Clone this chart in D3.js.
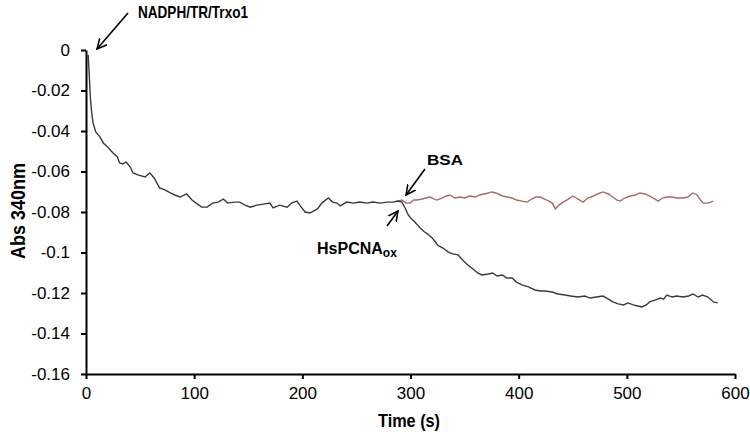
<!DOCTYPE html>
<html>
<head>
<meta charset="utf-8">
<script src="https://cdn.jsdelivr.net/npm/d3@7"></script>
<style>
  body { margin: 0; background: #fff; }
  text { font-family: Arial, "Liberation Sans", sans-serif; fill: #000; }
</style>
</head>
<body>
<svg id="chart" width="750" height="440"></svg>
<script>

// time (s) / Abs 340nm
var blackTime = [2,3,4,5,6.5,9,13,16,20,25,29,31,34,37,41,43.5,48,54.5,59,63,68,73,78,82,87,93,98,103,107,112,117,122,127,131,137,142,147,152,158,164,170,173,179,186,190,195,199,202.5,207,214,218,224,228,232,235,241,247,253,260,265,272,278,284,288,292,295,298,301,304,309,313,316,320,323,325,330,335,339,344,349,353,359,362,366,372,376,380,385,389,394,398,403,409,415,420,424,431,436,443,448,455,461,466,472,478,483,487,492,497,501,506,510,514,518,521,526,531,534,537,542,546,552,557,561,566,570,575,580,584];
var blackAbs = [-0.0025,-0.0123,-0.0232,-0.0296,-0.0360,-0.0405,-0.0430,-0.0459,-0.0479,-0.0509,-0.0528,-0.0558,-0.0563,-0.0553,-0.0578,-0.0607,-0.0617,-0.0627,-0.0607,-0.0632,-0.0681,-0.0691,-0.0706,-0.0716,-0.0726,-0.0711,-0.0741,-0.0761,-0.0776,-0.0776,-0.0756,-0.0751,-0.0736,-0.0756,-0.0751,-0.0751,-0.0766,-0.0776,-0.0766,-0.0761,-0.0756,-0.0780,-0.0766,-0.0776,-0.0756,-0.0746,-0.0776,-0.0800,-0.0805,-0.0785,-0.0756,-0.0731,-0.0751,-0.0756,-0.0770,-0.0751,-0.0756,-0.0751,-0.0756,-0.0751,-0.0756,-0.0751,-0.0751,-0.0746,-0.0751,-0.0780,-0.0815,-0.0835,-0.0849,-0.0879,-0.0899,-0.0909,-0.0928,-0.0948,-0.0963,-0.0978,-0.0998,-0.1007,-0.1012,-0.1042,-0.1062,-0.1086,-0.1101,-0.1111,-0.1106,-0.1101,-0.1116,-0.1111,-0.1126,-0.1126,-0.1146,-0.1160,-0.1170,-0.1185,-0.1190,-0.1190,-0.1195,-0.1205,-0.1210,-0.1215,-0.1220,-0.1215,-0.1225,-0.1220,-0.1215,-0.1230,-0.1244,-0.1254,-0.1259,-0.1249,-0.1259,-0.1264,-0.1269,-0.1259,-0.1244,-0.1235,-0.1225,-0.1230,-0.1210,-0.1220,-0.1215,-0.1220,-0.1215,-0.1205,-0.1220,-0.1210,-0.1220,-0.1244,-0.1249];

var redTime = [288,292,296,299.5,303,306,311,314,318,322,324.5,329,333,336.5,341,346,350,355,360,364,368,372,375,379,383,385.5,389,394,398,403,408,412,416,420,424,428,431,434,437,441,446,450,455,459.5,464,469,473,478,483,487,491,494,498,503,508,512,517,521,526,529,533,537,542,546,552,556.5,561,565,567.5,570.5,575,580];
var redAbs = [-0.0746,-0.0741,-0.0756,-0.0756,-0.0741,-0.0741,-0.0736,-0.0731,-0.0726,-0.0736,-0.0741,-0.0731,-0.0721,-0.0716,-0.0731,-0.0726,-0.0731,-0.0721,-0.0726,-0.0716,-0.0711,-0.0706,-0.0701,-0.0706,-0.0716,-0.0721,-0.0726,-0.0731,-0.0741,-0.0746,-0.0751,-0.0736,-0.0726,-0.0726,-0.0736,-0.0746,-0.0756,-0.0785,-0.0766,-0.0751,-0.0736,-0.0721,-0.0736,-0.0751,-0.0731,-0.0721,-0.0711,-0.0701,-0.0711,-0.0726,-0.0741,-0.0746,-0.0731,-0.0721,-0.0716,-0.0706,-0.0711,-0.0721,-0.0736,-0.0746,-0.0731,-0.0726,-0.0726,-0.0731,-0.0731,-0.0726,-0.0706,-0.0716,-0.0736,-0.0756,-0.0756,-0.0746];

var xTicks = [0,100,200,300,400,500,600];
var yTicks = [0,-0.02,-0.04,-0.06,-0.08,-0.1,-0.12,-0.14,-0.16];

var svg = d3.select("#chart"),
    margin = {top: 50, right: 15, bottom: 66, left: 86},
    width = +svg.attr("width") - margin.left - margin.right,
    height = +svg.attr("height") - margin.top - margin.bottom;

var x = d3.scaleLinear().domain([0, 600]).range([margin.left, margin.left + width]);
var y = d3.scaleLinear().domain([-0.16, 0]).range([margin.top + height, margin.top]);

// arrow marker (open V)
svg.append("defs").append("marker")
    .attr("id", "arrow")
    .attr("viewBox", "0 0 10 10")
    .attr("refX", 9).attr("refY", 5)
    .attr("markerWidth", 11).attr("markerHeight", 11)
    .attr("markerUnits", "userSpaceOnUse")
    .attr("orient", "auto")
  .append("path")
    .attr("d", "M0,0.5 L9,5 L0,9.5")
    .attr("fill", "none")
    .attr("stroke", "#000")
    .attr("stroke-width", 1.4);

var line = d3.line()
    .x(d => x(d[0]))
    .y(d => y(d[1]));

var blackData = blackTime.map((t, i) => [t, blackAbs[i]]);
var redData = redTime.map((t, i) => [t, redAbs[i]]);

svg.append("path")
    .datum(redData)
    .attr("d", line)
    .attr("fill", "none")
    .attr("stroke", "#a86a6a")
    .attr("stroke-width", 1.4);

svg.append("path")
    .datum(blackData)
    .attr("d", line)
    .attr("fill", "none")
    .attr("stroke", "#3a3a3a")
    .attr("stroke-width", 1.4);

// axes
var yAxis = svg.append("g")
    .attr("transform", "translate(" + margin.left + ",0)")
    .call(d3.axisLeft(y).tickValues(yTicks).tickSize(5).tickSizeOuter(0)
      .tickFormat(d => d === 0 ? "0" : String(+d.toFixed(2))));

var xAxis = svg.append("g")
    .attr("transform", "translate(0," + (margin.top + height) + ")")
    .call(d3.axisBottom(x).tickValues(xTicks).tickSize(5).tickSizeOuter(0));

[yAxis, xAxis].forEach(g => {
  g.select(".domain").attr("stroke", "#000").attr("stroke-width", 2);
  g.selectAll(".tick line").attr("stroke", "#000").attr("stroke-width", 2);
  g.selectAll(".tick text")
    .style("font-size", "17px")
    .attr("fill", "#000");
});
yAxis.selectAll(".tick text").attr("x", -16);
xAxis.selectAll(".tick text").attr("y", 13);

// axis titles
svg.append("text")
    .attr("transform", "translate(25,211) rotate(-90)")
    .attr("text-anchor", "middle")
    .attr("textLength", 96)
    .attr("lengthAdjust", "spacingAndGlyphs")
    .style("font-size", "20px")
    .style("font-weight", "bold")
    .text("Abs 340nm");

svg.append("text")
    .attr("x", 409).attr("y", 427)
    .attr("text-anchor", "middle")
    .attr("textLength", 62)
    .attr("lengthAdjust", "spacingAndGlyphs")
    .style("font-size", "19px")
    .style("font-weight", "bold")
    .text("Time (s)");

// annotations
svg.append("text")
    .attr("x", 138).attr("y", 18)
    .attr("textLength", 110)
    .attr("lengthAdjust", "spacingAndGlyphs")
    .style("font-size", "17px")
    .style("font-weight", "bold")
    .text("NADPH/TR/Trxo1");

svg.append("text")
    .attr("x", 427).attr("y", 165)
    .attr("textLength", 36)
    .attr("lengthAdjust", "spacingAndGlyphs")
    .style("font-size", "15px")
    .style("font-weight", "bold")
    .text("BSA");

var hs = svg.append("text")
    .attr("x", 317).attr("y", 254)
    .style("font-size", "16px")
    .style("font-weight", "bold");
hs.append("tspan").text("HsPCNA");
hs.append("tspan")
    .attr("dy", 3)
    .style("font-size", "12px")
    .text("ox");

var arrows = [
  [128, 13, 97, 49],
  [425, 169, 406, 195],
  [387, 226, 398, 211]
];
svg.selectAll(".arrow")
  .data(arrows)
  .join("line")
    .attr("class", "arrow")
    .attr("x1", d => d[0]).attr("y1", d => d[1])
    .attr("x2", d => d[2]).attr("y2", d => d[3])
    .attr("stroke", "#000")
    .attr("stroke-width", 1.6)
    .attr("marker-end", "url(#arrow)");

</script>
</body>
</html>
